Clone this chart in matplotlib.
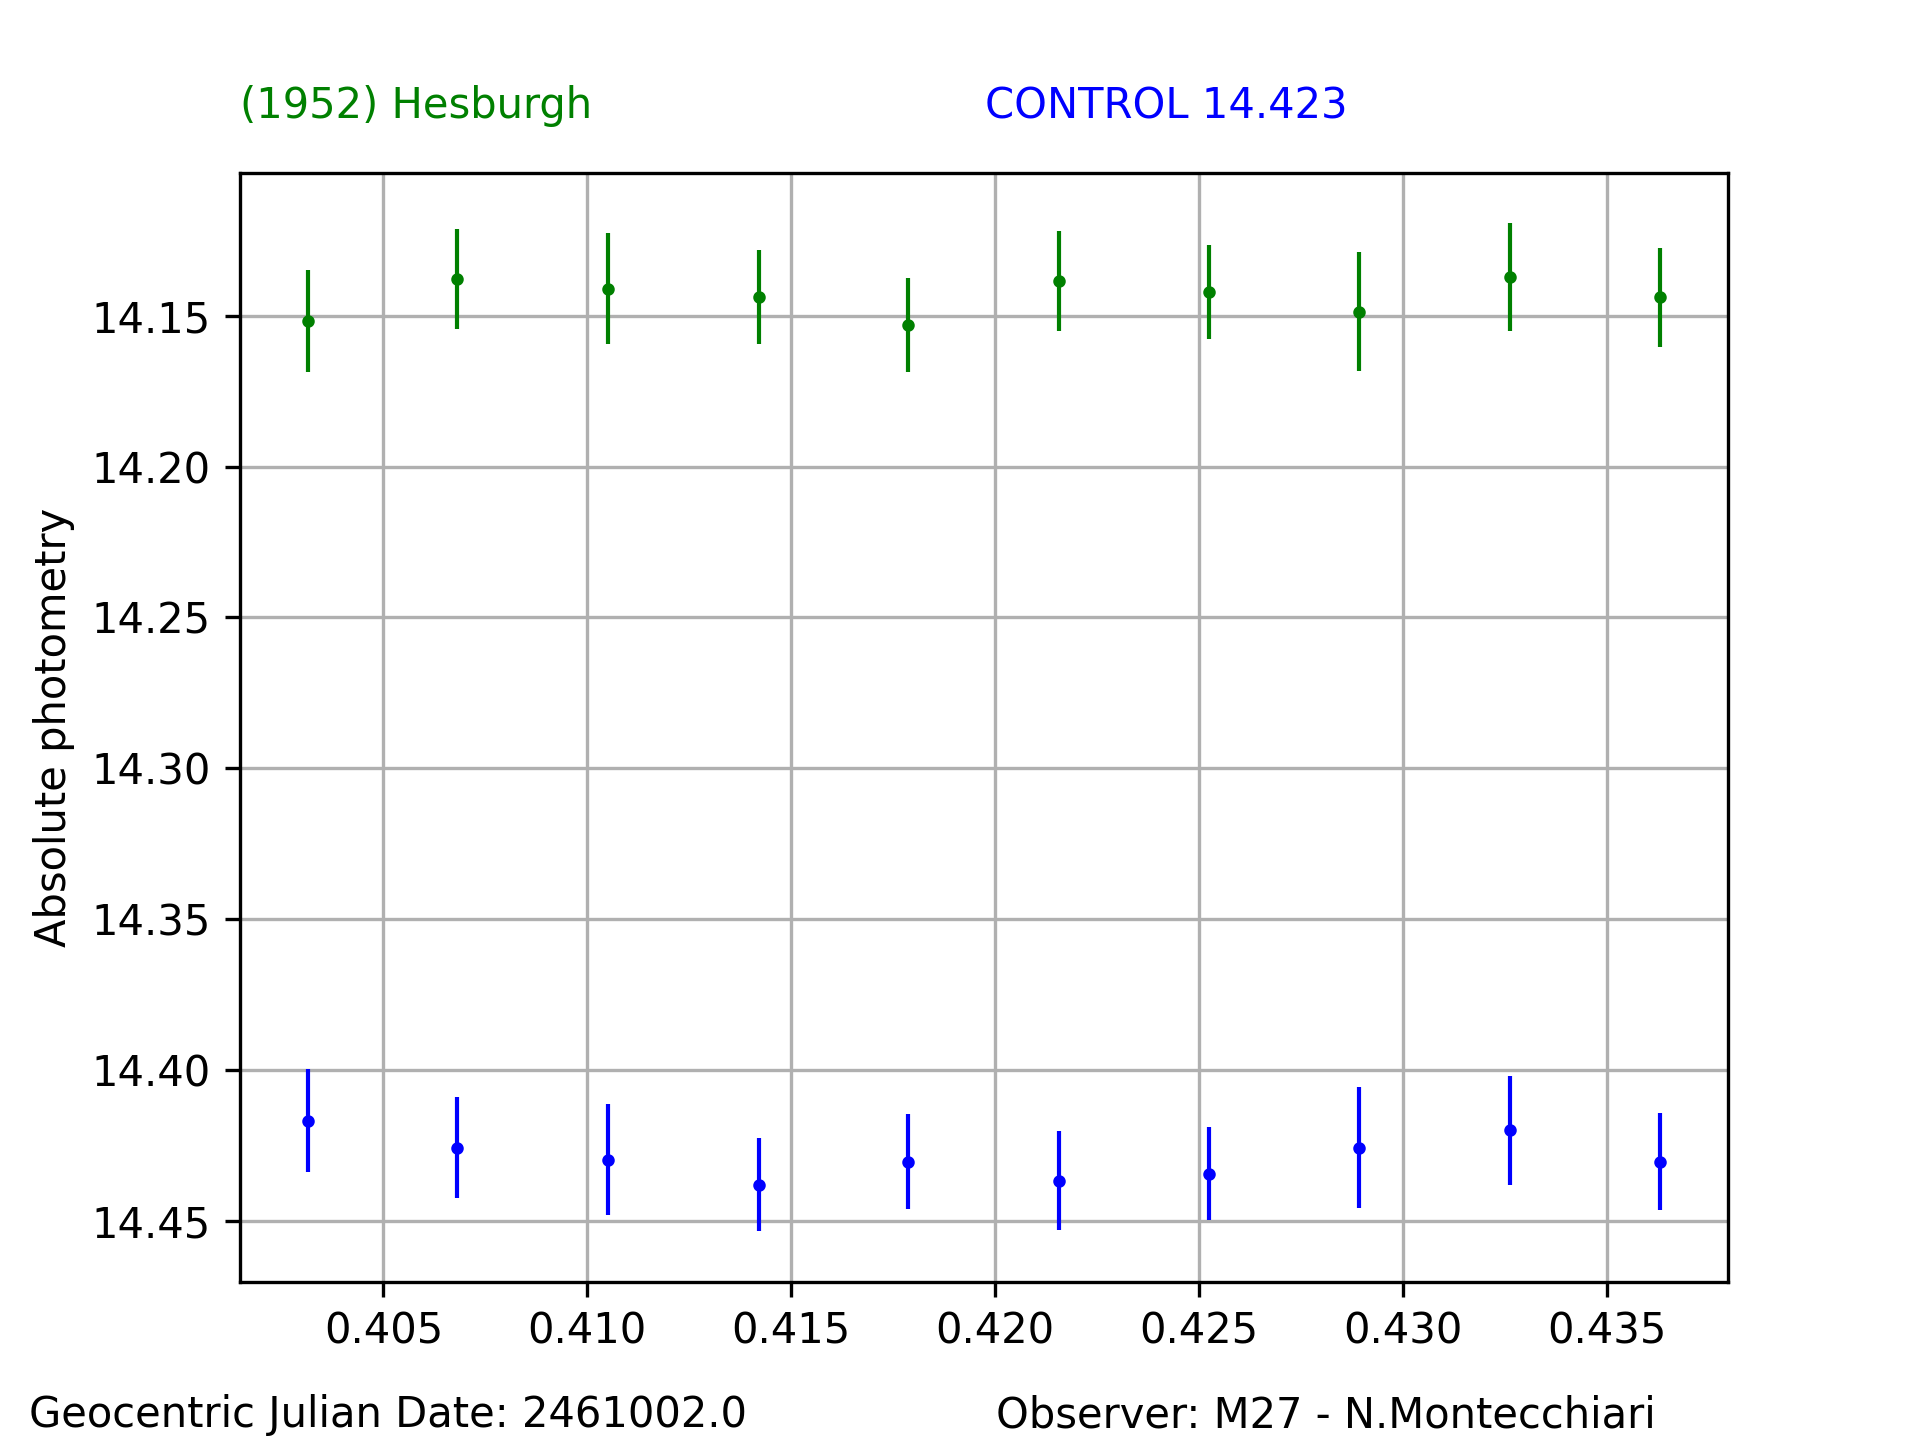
import matplotlib
matplotlib.use("Agg")
import matplotlib.pyplot as plt

# Time (fraction of day after JD 2461002.0)
jd = [0.40314, 0.40680, 0.41050, 0.41420, 0.41787, 0.42156, 0.42526, 0.42893, 0.43263, 0.43632]

# Asteroid (1952) Hesburgh magnitudes and errors
ast_mag = [14.1518, 14.1378, 14.1411, 14.1437, 14.1531, 14.1385, 14.1421, 14.1486, 14.1372, 14.1438]
ast_err = [0.0170, 0.0165, 0.0184, 0.0155, 0.0155, 0.0165, 0.0155, 0.0198, 0.0179, 0.0164]

# Control star magnitudes and errors
ctl_mag = [14.4168, 14.4258, 14.4298, 14.4381, 14.4304, 14.4367, 14.4344, 14.4258, 14.4201, 14.4304]
ctl_err = [0.0170, 0.0167, 0.0184, 0.0154, 0.0157, 0.0165, 0.0155, 0.0200, 0.0180, 0.0162]

fig = plt.figure(figsize=(6.4, 4.8), dpi=300)
ax = fig.add_subplot(111)

ax.errorbar(jd, ast_mag, yerr=ast_err, fmt='.', color='green', elinewidth=1.0, markersize=4)
ax.errorbar(jd, ctl_mag, yerr=ctl_err, fmt='.', color='blue', elinewidth=1.0, markersize=4)

ax.invert_yaxis()
ax.grid(True)
ax.set_ylabel("Absolute photometry")

fig.text(0.125, 0.918, "(1952) Hesburgh", color='green', fontsize=10, va='baseline')
fig.text(0.513, 0.918, "CONTROL 14.423", color='blue', fontsize=10, va='baseline')
fig.text(0.015, 0.009, "Geocentric Julian Date: 2461002.0", fontsize=10, va='baseline')
fig.text(0.519, 0.009, "Observer: M27 - N.Montecchiari", fontsize=10, va='baseline')

fig.savefig("out.png", dpi=300)
